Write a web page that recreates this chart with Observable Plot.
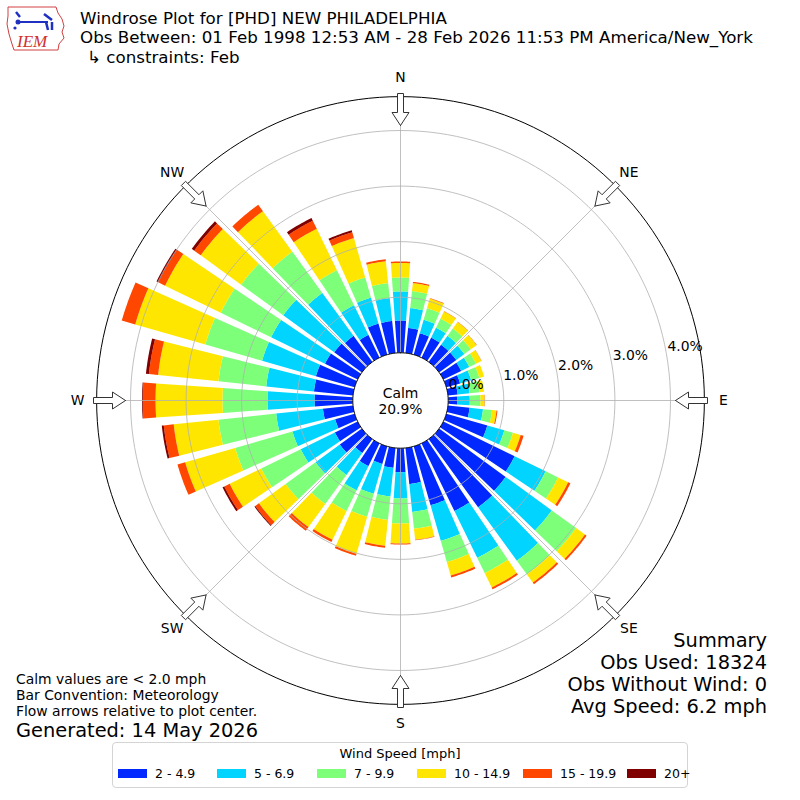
<!DOCTYPE html>
<html><head><meta charset="utf-8">
<script src="https://cdn.jsdelivr.net/npm/d3@7"></script>
<script src="https://cdn.jsdelivr.net/npm/@observablehq/plot@0.6"></script>
<style>
body{margin:0;background:#fff;font-family:"DejaVu Sans",sans-serif;}
#wrap{position:relative;width:800px;height:800px;overflow:hidden;background:#fff;}
#wrap svg.plotsvg{position:absolute;left:0;top:0;}
.t{position:absolute;white-space:pre;color:#000;line-height:1;}
.legend{position:absolute;left:112px;top:742px;width:574px;height:44px;border:1px solid #d4d4d4;border-radius:4px;background:#fff;}
.sw{position:absolute;width:29px;height:9px;}
</style></head><body><div id="wrap"></div>
<script>
// ---- data (percent of observations) ----
const directions = [0,10,20,30,40,50,60,70,80,90,100,110,120,130,140,150,160,170,180,190,200,210,220,230,240,250,260,270,280,290,300,310,320,330,340,350];
const speedBins = ["2 - 4.9","5 - 6.9","7 - 9.9","10 - 14.9","15 - 19.9","20+"];
const binColors = ["#0028ff","#00d4ff","#7dff7a","#ffe600","#ff4700","#800000"];
const s2to4_9   = [0.581,0.455,0.401,0.401,0.383,0.383,0.356,0.257,0.176,0.162,0.391,0.768,1.427,1.481,1.517,1.355,1.103,0.653,0.432,0.360,0.329,0.455,0.311,0.491,0.455,0.365,0.545,0.689,0.707,0.725,0.653,0.617,0.581,0.455,0.581,0.581];
const s5to6_9   = [0.522,0.360,0.252,0.198,0.198,0.180,0.162,0.207,0.215,0.227,0.244,0.317,0.621,1.026,1.188,0.936,0.666,0.504,0.473,0.518,0.558,0.486,0.486,0.540,0.684,0.799,0.846,0.846,0.864,1.008,1.080,1.134,0.954,0.594,0.486,0.414];
const s7to9_9   = [0.252,0.306,0.216,0.180,0.162,0.144,0.135,0.153,0.181,0.192,0.162,0.162,0.250,0.540,0.306,0.306,0.396,0.306,0.450,0.423,0.432,0.414,0.648,0.666,0.792,1.073,1.044,0.810,0.864,1.062,1.008,0.936,0.918,0.702,0.378,0.270];
const s10to14_9 = [0.261,0.144,0.180,0.144,0.144,0.126,0.108,0.090,0.081,0.072,0.081,0.144,0.200,0.198,0.180,0.288,0.252,0.198,0.360,0.468,0.693,0.576,0.513,0.594,0.630,0.936,0.810,1.205,1.092,1.313,1.115,0.899,0.900,0.828,0.738,0.396];
const s15to19_9 = [0.027,0.023,0.009,0.006,0.006,0.006,0.004,0,0,0.006,0.018,0.054,0.045,0.036,0.036,0.036,0.036,0.009,0.018,0.036,0.036,0.045,0.081,0.081,0.108,0.144,0.180,0.229,0.167,0.252,0.135,0.144,0.144,0.162,0.108,0.036];
const s20plus   = [0,0,0,0,0,0,0,0,0,0,0,0,0,0,0,0,0,0,0,0,0,0,0,0.018,0.036,0,0.036,0.014,0.054,0,0.036,0.054,0,0.054,0.036,0];
const series = [s2to4_9, s5to6_9, s7to9_9, s10to14_9, s15to19_9, s20plus];
const ringTicks = [0,1,2,3,4];
const compassNames = ["N","NE","E","SE","S","SW","W","NW"];
const compassBearings = [0,45,90,135,180,225,270,315];
const calmPct = 20.9;
const radialMaxPct = 4.61;

// ---- geometry helpers (radial scale: calm offset + linear percent) ----
const calmR = 47.7, perPct = 55.57;
const toR = p => calmR + perPct * p;
const rad = d => d * Math.PI / 180;
const X = (r, d) => r * Math.sin(rad(d));
const Y = (r, d) => r * Math.cos(rad(d));
const opening = 8; // degrees of each 10-degree sector

const wedges = speedBins.map(() => []);
directions.forEach((d, j) => {
  let cum = 0;
  series.forEach((vals, i) => {
    const v = vals[j];
    const r0 = toR(cum), r1 = toR(cum + v);
    cum += v;
    if (v <= 0) return;
    const key = d + "-" + i;
    const n = 10;
    for (let k = 0; k <= n; k++) { const a = d - opening/2 + opening*k/n; wedges[i].push({key, x: X(r1,a), y: Y(r1,a)}); }
    for (let k = n; k >= 0; k--) { const a = d - opening/2 + opening*k/n; wedges[i].push({key, x: X(r0,a), y: Y(r0,a)}); }
  });
});

function circlePts(r, key) {
  return d3.range(0, 361, 2).map(a => ({key, x: X(r,a), y: Y(r,a)}));
}
const ringPts = ringTicks.filter(k => k > 0).flatMap(k => circlePts(toR(k), k));
const outerPts = circlePts(toR(radialMaxPct), "outer");
const calmPts = circlePts(calmR, "calm");

// flow arrows (shape in radial/lateral pixel offsets)
const arrowShape = [[275,0],[288,8.5],[288,3],[307,3],[307,-3],[288,-3],[288,-8.5],[275,0]];
const arrowPts = compassBearings.flatMap(b => arrowShape.map(([t,s]) => ({
  key: b,
  x: t*Math.sin(rad(b)) + s*Math.cos(rad(b)),
  y: t*Math.cos(rad(b)) - s*Math.sin(rad(b))
})));

const marks = [];
speedBins.forEach((name, i) => {
  marks.push(Plot.line(wedges[i], {x: "x", y: "y", z: "key", fill: binColors[i], stroke: "none", curve: "linear"}));
});
marks.push(Plot.line(ringPts, {x: "x", y: "y", z: "key", stroke: "#b0b0b0", strokeWidth: 0.8}));
marks.push(Plot.link(compassBearings, {
  x1: () => 0, y1: () => 0,
  x2: b => X(toR(radialMaxPct), b), y2: b => Y(toR(radialMaxPct), b),
  stroke: "#b0b0b0", strokeWidth: 0.8
}));
marks.push(Plot.line(outerPts, {x: "x", y: "y", stroke: "#000", strokeWidth: 1}));
marks.push(Plot.line(calmPts, {x: "x", y: "y", fill: "white", stroke: "#000", strokeWidth: 1}));
marks.push(Plot.line(arrowPts, {x: "x", y: "y", z: "key", fill: "white", stroke: "#333", strokeWidth: 1}));
marks.push(Plot.text(compassNames, {
  x: (n, i) => X(323, compassBearings[i]), y: (n, i) => Y(323, compassBearings[i]),
  text: d => d, fontSize: 13.9, fill: "#000"
}));
marks.push(Plot.text(ringTicks, {
  x: k => X(toR(k), 80), y: k => Y(toR(k), 80),
  text: k => k.toFixed(1) + "%", textAnchor: "start", lineAnchor: "bottom", dx: 1, dy: -3, fontSize: 13.9, fill: "#000"
}));
marks.push(Plot.text([calmPct], {
  x: () => 0, y: () => 0, text: d => "Calm\n" + d.toFixed(1) + "%", lineHeight: 1.15, fontSize: 13.9, fill: "#000"
}));

const chart = Plot.plot({
  width: 800, height: 800, margin: 0,
  x: {domain: [-400, 400], axis: null},
  y: {domain: [-400, 400], axis: null},
  style: {fontFamily: "DejaVu Sans", fontSize: "13.9px", background: "transparent", overflow: "visible"},
  marks
});
chart.classList.add("plotsvg");
const wrap = document.getElementById("wrap");
wrap.appendChild(chart);

function addText(txt, opts) {
  const el = document.createElement("div");
  el.className = "t";
  el.textContent = txt;
  Object.assign(el.style, opts);
  wrap.appendChild(el);
  return el;
}
// header
addText("Windrose Plot for [PHD] NEW PHILADELPHIA", {left: "80px", top: "9.5px", fontSize: "16.7px"});
addText("Obs Between: 01 Feb 1998 12:53 AM - 28 Feb 2026 11:53 PM America/New_York", {left: "80px", top: "29px", fontSize: "16.7px"});
addText("\u21b3 constraints: Feb", {left: "87px", top: "48.6px", fontSize: "16.7px"});
// bottom-left notes
addText("Calm values are < 2.0 mph", {left: "16px", top: "673px", fontSize: "13.9px"});
addText("Bar Convention: Meteorology", {left: "16px", top: "689px", fontSize: "13.9px"});
addText("Flow arrows relative to plot center.", {left: "16px", top: "705px", fontSize: "13.9px"});
addText("Generated: 14 May 2026", {left: "16px", top: "721px", fontSize: "19.4px"});
// summary
const summary = ["Summary", "Obs Used: 18324", "Obs Without Wind: 0", "Avg Speed: 6.2 mph"];
summary.forEach((s, i) => addText(s, {right: "33px", top: (631 + 22*i) + "px", fontSize: "19.4px", textAlign: "right"}));

// legend
const leg = document.createElement("div");
leg.className = "legend";
wrap.appendChild(leg);
const lt = document.createElement("div");
lt.className = "t";
lt.textContent = "Wind Speed [mph]";
Object.assign(lt.style, {left: "0", width: "574px", textAlign: "center", top: "4px", fontSize: "13px"});
leg.appendChild(lt);
const swatchX = [118, 217, 317, 417, 523, 627];
speedBins.forEach((name, i) => {
  const sw = document.createElement("div");
  sw.className = "sw";
  Object.assign(sw.style, {left: (swatchX[i] - 113) + "px", top: "26px", background: binColors[i]});
  leg.appendChild(sw);
  const lb = document.createElement("div");
  lb.className = "t";
  lb.textContent = name;
  Object.assign(lb.style, {left: (swatchX[i] - 113 + 37) + "px", top: "25px", fontSize: "12.5px"});
  leg.appendChild(lb);
});

// IEM logo
const logo = document.createElementNS("http://www.w3.org/2000/svg", "svg");
logo.setAttribute("width", "62"); logo.setAttribute("height", "50");
logo.setAttribute("style", "position:absolute;left:4px;top:4px;");
logo.innerHTML = `
<path d="M4,3 L52,3 L54,9 L58,15 L60,22 L58,28 L60,34 L55,40 L54,46 L10,46 L8,40 L5,30 L3,20 L4,12 Z" fill="none" stroke="#d04040" stroke-width="1"/>
<path d="M14,18 L44,18" stroke="#2030c0" stroke-width="2"/>
<path d="M12,8 L16,13 M40,10 L48,16 M48,18 L48,26 M42,18 L44,26" stroke="#2030c0" stroke-width="2.5" fill="none"/>
<circle cx="14" cy="18" r="2.5" fill="#2030c0"/>
<circle cx="11" cy="24" r="1.6" fill="#2030c0"/>
<text x="13" y="43" font-family="Liberation Serif, serif" font-style="italic" font-size="17" fill="#d03030">IEM</text>`;
wrap.appendChild(logo);
</script></body></html>
